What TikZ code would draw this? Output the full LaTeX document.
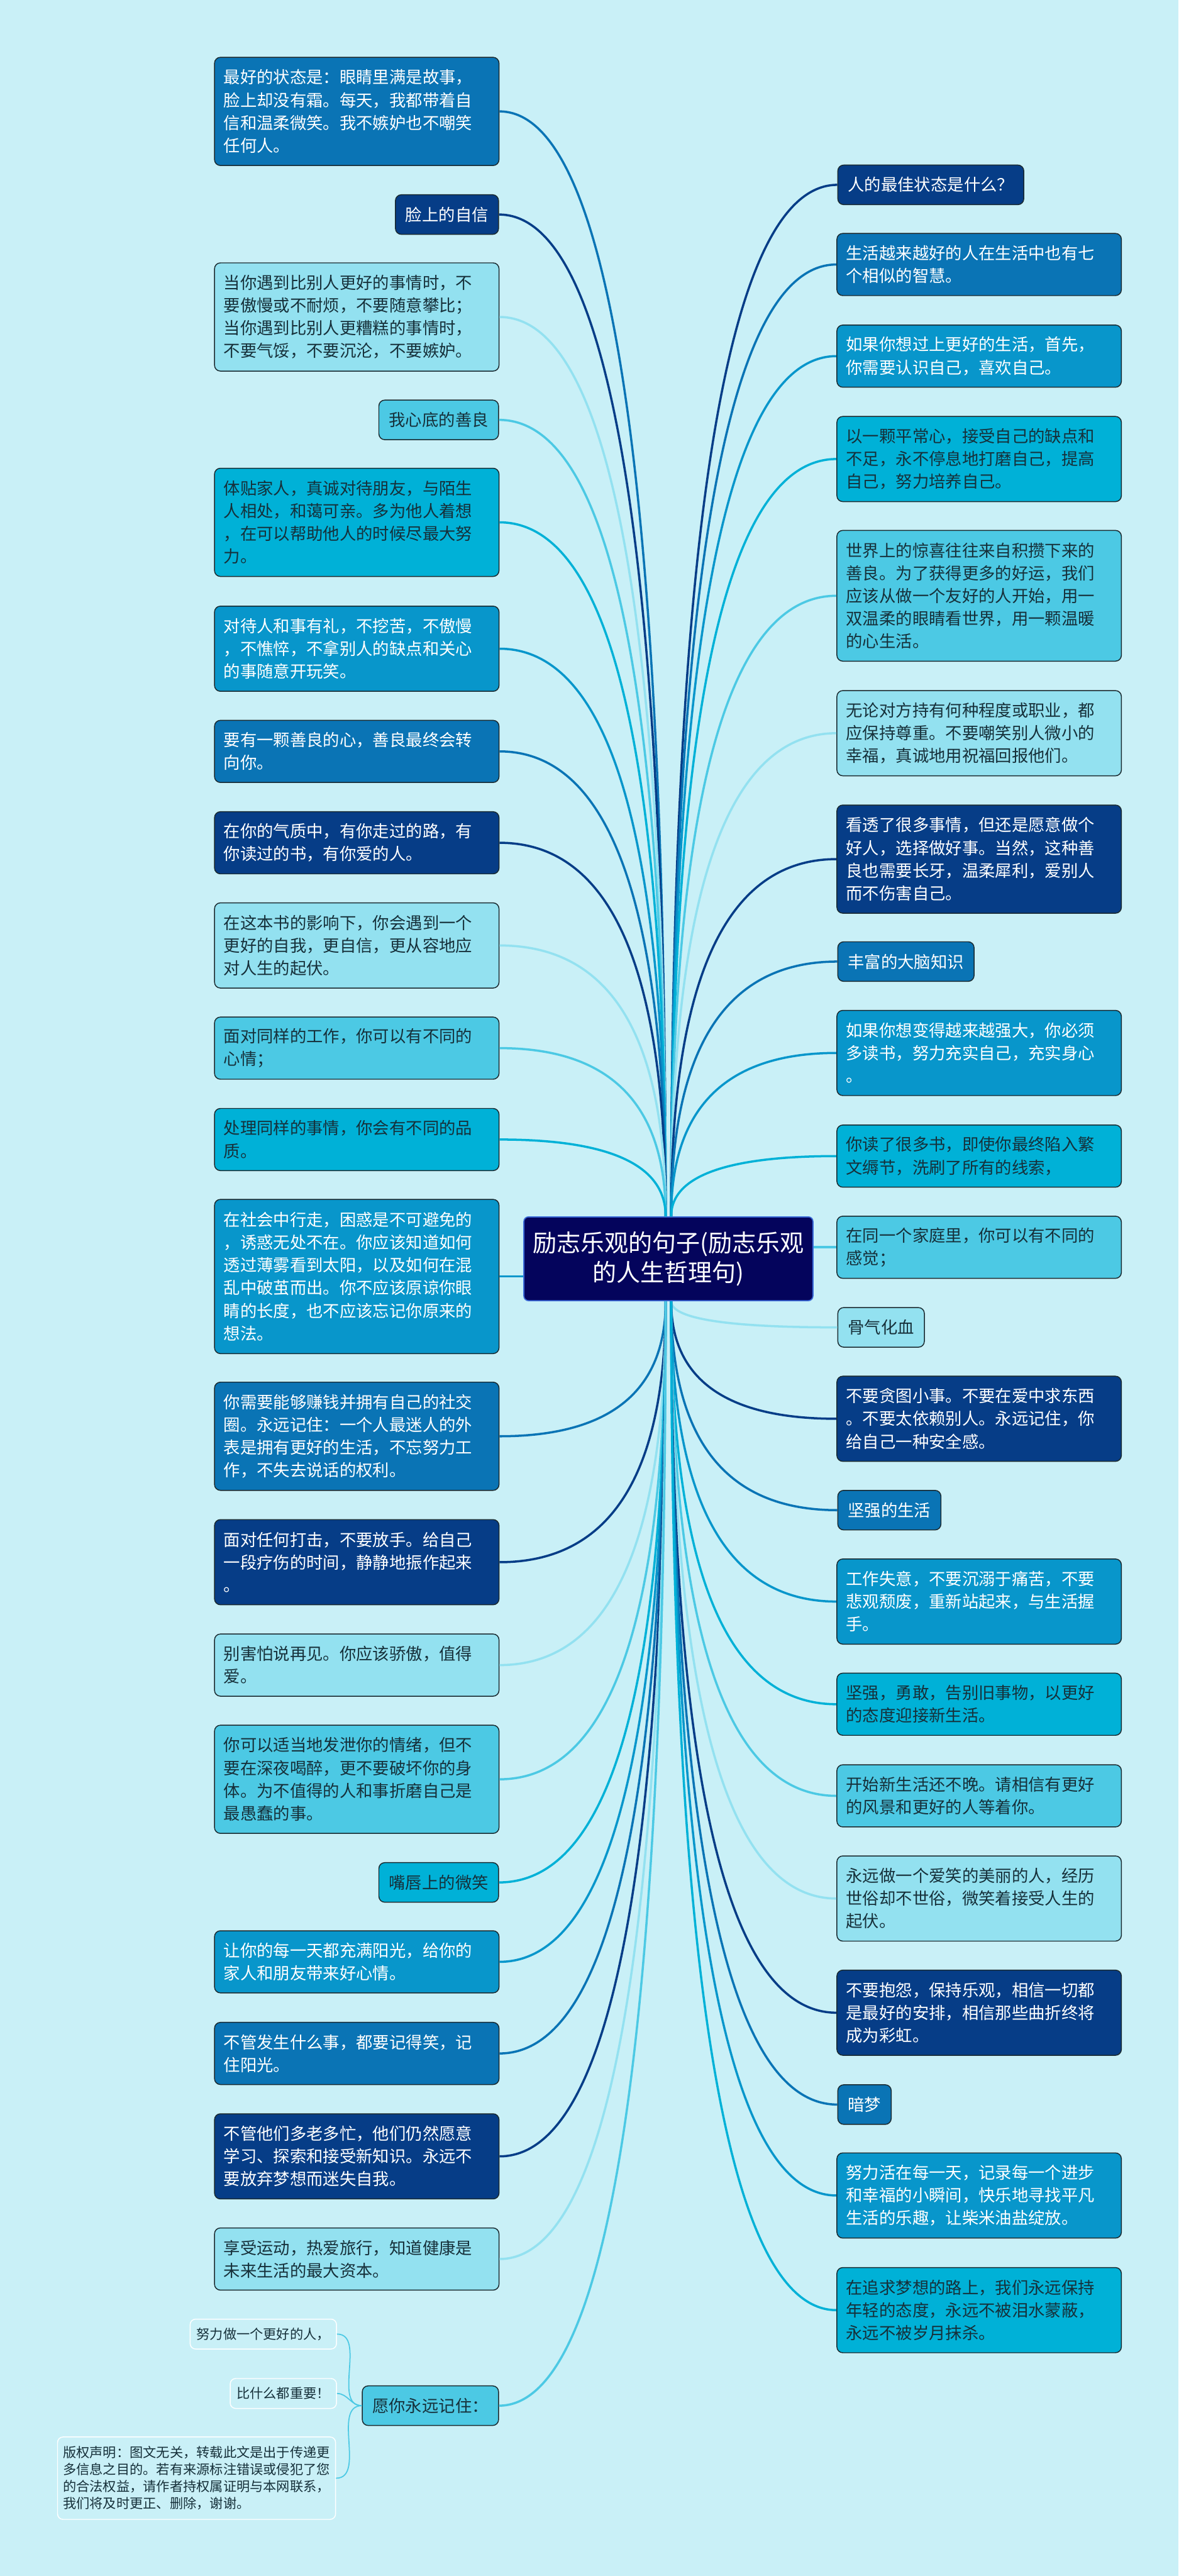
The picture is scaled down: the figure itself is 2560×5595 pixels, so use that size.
\documentclass[tikz,border=0pt]{standalone}
\usepackage{fontspec}
\newfontfamily\cjk{Noto Sans CJK SC}
\usetikzlibrary{calc}
\definecolor{bgc}{HTML}{C9F0F7}
\definecolor{cDark}{HTML}{063D87}
\definecolor{cMedA}{HTML}{0A74B5}
\definecolor{cMedB}{HTML}{0896CB}
\definecolor{cCyan}{HTML}{00B1D7}
\definecolor{cMedCyan}{HTML}{4CC9E4}
\definecolor{cLight}{HTML}{93E1F0}
\definecolor{cRoot}{HTML}{04045C}
\definecolor{cRootLine}{HTML}{3A6AD8}
\definecolor{tDark}{HTML}{16303A}
\definecolor{nodeline}{HTML}{1A2A30}
\begin{document}
\begin{tikzpicture}[x=0.25pt,y=-0.25pt,
  box/.style={draw=nodeline, line width=0.5pt, rounded corners=3.2pt, inner xsep=5pt, inner ysep=0pt,
    font=\cjk\fontsize{9pt}{12.35pt}\selectfont},
  wide/.style={box, text width=144.5pt, align=left},
  short/.style={box, inner xsep=5.5pt, minimum height=21.5pt},
  dk/.style={fill=cDark, text=white},
  ma/.style={fill=cMedA, text=white},
  mb/.style={fill=cMedB, text=white},
  cy/.style={fill=cCyan, text=tDark},
  mc/.style={fill=cMedCyan, text=tDark},
  lt/.style={fill=cLight, text=tDark},
  lnA/.style={minimum height=21.5pt},
  lnB/.style={minimum height=33.75pt},
  lnC/.style={minimum height=46.25pt},
  lnD/.style={minimum height=58.75pt},
  lnE/.style={minimum height=71pt},
  lnF/.style={minimum height=83.75pt},
  rootbox/.style={draw=cRootLine, line width=0.6pt, fill=cRoot, text=white, rounded corners=2.5pt,
    minimum width=157pt, minimum height=45.5pt, align=center,
    font=\cjk\fontsize{13pt}{16pt}\selectfont},
  subbox/.style={draw=white, line width=0.5pt, rounded corners=3pt, fill=bgc, text=tDark,
    inner xsep=3.5pt, inner ysep=0pt, font=\cjk\fontsize{7.25pt}{9.25pt}\selectfont},
  link/.style={line width=1.2pt},
  sublink/.style={line width=0.6pt, cMedCyan},
  branch/.style={to path={.. controls ($(\tikztostart)!0.73!(\tikztostart |- \tikztotarget)$) and ($(\tikztotarget)!0.6!(\tikztotarget -| \tikztostart)$) .. (\tikztotarget)}}
]
\fill[bgc] (0,0) rectangle (2560,5595);
\useasboundingbox (0,0) rectangle (2560,5595);

% root
\node[rootbox] (root) at (1452,2734) {励志乐观的句子(励志乐观\\的人生哲理句)};
\coordinate (rtl) at ([xshift=-1.5pt]root.north);
\coordinate (rtr) at ([xshift=1.5pt]root.north);
\coordinate (rbl) at ([xshift=-1.5pt]root.south);
\coordinate (rbr) at ([xshift=1.5pt]root.south);

% left column
\node[wide,lnD,ma] (L1) at (775,242) {最好的状态是：眼睛里满是故事，\\脸上却没有霜。每天，我都带着自\\信和温柔微笑。我不嫉妒也不嘲笑\\任何人。};
\node[short,dk,anchor=east] (L2) at (1084,466) {脸上的自信};
\node[wide,lnD,lt] (L3) at (775,688.5) {当你遇到比别人更好的事情时，不\\要傲慢或不耐烦，不要随意攀比；\\当你遇到比别人更糟糕的事情时，\\不要气馁，不要沉沦，不要嫉妒。};
\node[short,mc,anchor=east] (L4) at (1084,912) {我心底的善良};
\node[wide,lnD,cy] (L5) at (775,1134.5) {体贴家人，真诚对待朋友，与陌生\\人相处，和蔼可亲。多为他人着想\\，在可以帮助他人的时候尽最大努\\力。};
\node[wide,lnC,mb] (L6) at (775,1409) {对待人和事有礼，不挖苦，不傲慢\\，不憔悴，不拿别人的缺点和关心\\的事随意开玩笑。};
\node[wide,lnB,ma] (L7) at (775,1632) {要有一颗善良的心，善良最终会转\\向你。};
\node[wide,lnB,dk] (L8) at (775,1830.5) {在你的气质中，有你走过的路，有\\你读过的书，有你爱的人。};
\node[wide,lnC,lt] (L9) at (775,2053.5) {在这本书的影响下，你会遇到一个\\更好的自我，更自信，更从容地应\\对人生的起伏。};
\node[wide,lnB,mc] (L10) at (775,2276.5) {面对同样的工作，你可以有不同的\\心情；};
\node[wide,lnB,cy] (L11) at (775,2475) {处理同样的事情，你会有不同的品\\质。};
\node[wide,lnF,mb] (L12) at (775,2772.5) {在社会中行走，困惑是不可避免的\\，诱惑无处不在。你应该知道如何\\透过薄雾看到太阳，以及如何在混\\乱中破茧而出。你不应该原谅你眼\\睛的长度，也不应该忘记你原来的\\想法。};
\node[wide,lnD,ma] (L13) at (775,3119.5) {你需要能够赚钱并拥有自己的社交\\圈。永远记住：一个人最迷人的外\\表是拥有更好的生活，不忘努力工\\作，不失去说话的权利。};
\node[wide,lnC,dk] (L14) at (775,3393) {面对任何打击，不要放手。给自己\\一段疗伤的时间，静静地振作起来\\。};
\node[wide,lnB,lt] (L15) at (775,3616.5) {别害怕说再见。你应该骄傲，值得\\爱。};
\node[wide,lnD,mc] (L16) at (775,3864.5) {你可以适当地发泄你的情绪，但不\\要在深夜喝醉，更不要破坏你的身\\体。为不值得的人和事折磨自己是\\最愚蠢的事。};
\node[short,cy,anchor=east] (L17) at (1084,4088.5) {嘴唇上的微笑};
\node[wide,lnB,mb] (L18) at (775,4261) {让你的每一天都充满阳光，给你的\\家人和朋友带来好心情。};
\node[wide,lnB,ma] (L19) at (775,4460) {不管发生什么事，都要记得笑，记\\住阳光。};
\node[wide,lnC,dk] (L20) at (775,4683.5) {不管他们多老多忙，他们仍然愿意\\学习、探索和接受新知识。永远不\\要放弃梦想而迷失自我。};
\node[wide,lnB,lt] (L21) at (775,4906.5) {享受运动，热爱旅行，知道健康是\\未来生活的最大资本。};
\node[short,mc,anchor=east] (L22) at (1084,5225) {愿你永远记住：};

% sub nodes
\node[subbox,minimum height=16.25pt,anchor=east] (S1) at (732,5069.5) {努力做一个更好的人，};
\node[subbox,minimum height=16.25pt,anchor=east] (S2) at (732,5198.5) {比什么都重要！};
\node[subbox,minimum height=44.75pt,text width=145pt,align=left,inner xsep=3pt,anchor=east] (S3) at (730,5382.5) {版权声明：图文无关，转载此文是出于传递更\\多信息之目的。若有来源标注错误或侵犯了您\\的合法权益，请作者持权属证明与本网联系，\\我们将及时更正、删除，谢谢。};

% right column
\node[short,dk,anchor=west] (R1) at (1819,401.5) {人的最佳状态是什么？};
\node[wide,lnB,ma] (R2) at (2127,574.5) {生活越来越好的人在生活中也有七\\个相似的智慧。};
\node[wide,lnB,mb] (R3) at (2127,773.5) {如果你想过上更好的生活，首先，\\你需要认识自己，喜欢自己。};
\node[wide,lnC,cy] (R4) at (2127,997) {以一颗平常心，接受自己的缺点和\\不足，永不停息地打磨自己，提高\\自己，努力培养自己。};
\node[wide,lnE,mc] (R5) at (2127,1294) {世界上的惊喜往往来自积攒下来的\\善良。为了获得更多的好运，我们\\应该从做一个友好的人开始，用一\\双温柔的眼睛看世界，用一颗温暖\\的心生活。};
\node[wide,lnC,lt] (R6) at (2127,1592.5) {无论对方持有何种程度或职业，都\\应保持尊重。不要嘲笑别人微小的\\幸福，真诚地用祝福回报他们。};
\node[wide,lnD,dk] (R7) at (2127,1866) {看透了很多事情，但还是愿意做个\\好人，选择做好事。当然，这种善\\良也需要长牙，温柔犀利，爱别人\\而不伤害自己。};
\node[short,ma,anchor=west] (R8) at (1819,2088.5) {丰富的大脑知识};
\node[wide,lnC,mb] (R9) at (2127,2287) {如果你想变得越来越强大，你必须\\多读书，努力充实自己，充实身心\\。};
\node[wide,lnB,cy] (R10) at (2127,2511) {你读了很多书，即使你最终陷入繁\\文缛节，洗刷了所有的线索，};
\node[wide,lnB,mc] (R11) at (2127,2709) {在同一个家庭里，你可以有不同的\\感觉；};
\node[short,lt,anchor=west] (R12) at (1819,2883) {骨气化血};
\node[wide,lnC,dk] (R13) at (2127,3081.5) {不要贪图小事。不要在爱中求东西\\。不要太依赖别人。永远记住，你\\给自己一种安全感。};
\node[short,ma,anchor=west] (R14) at (1819,3280) {坚强的生活};
\node[wide,lnC,mb] (R15) at (2127,3478.5) {工作失意，不要沉溺于痛苦，不要\\悲观颓废，重新站起来，与生活握\\手。};
\node[wide,lnB,cy] (R16) at (2127,3701.5) {坚强，勇敢，告别旧事物，以更好\\的态度迎接新生活。};
\node[wide,lnB,mc] (R17) at (2127,3900.5) {开始新生活还不晚。请相信有更好\\的风景和更好的人等着你。};
\node[wide,lnC,lt] (R18) at (2127,4123.5) {永远做一个爱笑的美丽的人，经历\\世俗却不世俗，微笑着接受人生的\\起伏。};
\node[wide,lnC,dk] (R19) at (2127,4371.5) {不要抱怨，保持乐观，相信一切都\\是最好的安排，相信那些曲折终将\\成为彩虹。};
\node[short,ma,anchor=west] (R20) at (1819,4571) {暗梦};
\node[wide,lnC,mb] (R21) at (2127,4768.5) {努力活在每一天，记录每一个进步\\和幸福的小瞬间，快乐地寻找平凡\\生活的乐趣，让柴米油盐绽放。};
\node[wide,lnC,cy] (R22) at (2127,5017.5) {在追求梦想的路上，我们永远保持\\年轻的态度，永远不被泪水蒙蔽，\\永远不被岁月抹杀。};

% connectors: upper left
\foreach \n/\c in {L1/cMedA,L2/cDark,L3/cLight,L4/cMedCyan,L5/cCyan,L6/cMedB,L7/cMedA,L8/cDark,L9/cLight,L10/cMedCyan,L11/cCyan}
  \draw[link,\c] (rtl) to[branch] (\n.east);
% lower left
\foreach \n/\c in {L13/cMedA,L14/cDark,L15/cLight,L16/cMedCyan,L17/cCyan,L18/cMedB,L19/cMedA,L20/cDark,L21/cLight,L22/cMedCyan}
  \draw[link,\c] (rbl) to[branch] (\n.east);
\draw[link,cMedB] (L12.east) -- (L12.east -| root.west);
% upper right
\foreach \n/\c in {R1/cDark,R2/cMedA,R3/cMedB,R4/cCyan,R5/cMedCyan,R6/cLight,R7/cDark,R8/cMedA,R9/cMedB,R10/cCyan}
  \draw[link,\c] (rtr) to[branch] (\n.west);
% lower right
\foreach \n/\c in {R12/cLight,R13/cDark,R14/cMedA,R15/cMedB,R16/cCyan,R17/cMedCyan,R18/cLight,R19/cDark,R20/cMedA,R21/cMedB,R22/cCyan}
  \draw[link,\c] (rbr) to[branch] (\n.west);
\draw[link,cMedCyan] (R11.west) -- (R11.west -| root.east);

% sub connectors
\draw[sublink] (L22.west) to[out=180,in=0] (S1.east);
\draw[sublink] (L22.west) to[out=180,in=0] (S2.east);
\draw[sublink] (L22.west) to[out=180,in=0] (S3.east);
\end{tikzpicture}
\end{document}
